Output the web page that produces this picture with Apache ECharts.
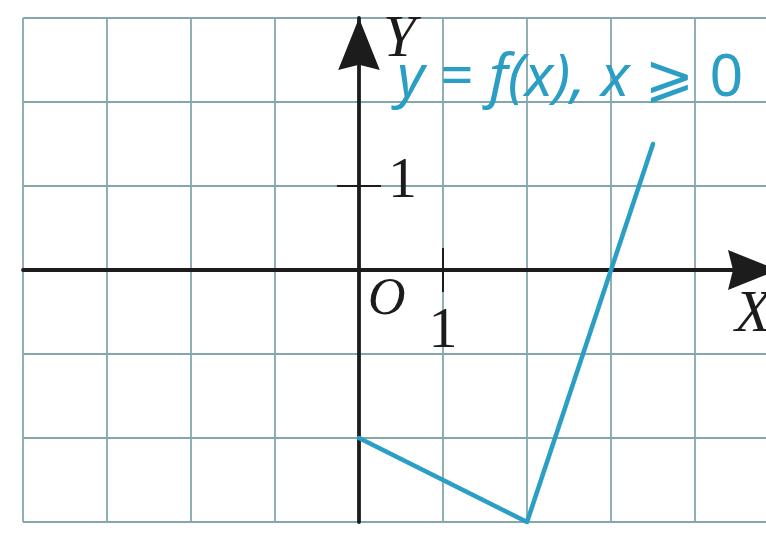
<!DOCTYPE html>
<html>
<head>
<meta charset="utf-8">
<script src="https://cdn.jsdelivr.net/npm/echarts@6/dist/echarts.min.js"></script>
<style>
  html, body { margin: 0; padding: 0; background: #ffffff; }
  #chart { width: 766px; height: 533px; }
</style>
</head>
<body>
<div id="chart"></div>
<script>
// Piecewise-linear function y = f(x), x >= 0 (vertices)
const xPoints = [0, 2, 3.5];
const yPoints = [-2, -3, 1.5];

// Visible coordinate window
const xRange = [-4, 5];
const yRange = [-3, 3];

// Unit marks on the axes
const xTickValues = [1];
const yTickValues = [1];

// Annotations
const formulaParts = ['y', ' = ', 'f', '(', 'x', '), ', 'x', ' ⩾ ', '0'];
const originLabel = 'O';
const xAxisName = 'X';
const yAxisName = 'Y';

const curveColor = '#2a9ec4';
const axisColor = '#1c1c1c';
const gridColor = '#84a7ad';
const serif = '"Liberation Serif", "DejaVu Serif", serif';

const chart = echarts.init(document.getElementById('chart'), null, { renderer: 'canvas' });

const arrowPath = 'path://M0,0 L40,100 L0,90 L-40,100 Z';

// role: 'main' = axis line + inner half of the unit tick,
//       'outer' = outer half of the unit tick,
//       'grid' = square grid only
function xAxisDef(role) {
  const isMain = role === 'main', isOuter = role === 'outer', isGrid = role === 'grid';
  return {
    type: 'value', min: xRange[0], max: xRange[1], interval: 1, position: 'bottom',
    axisLine: {
      show: isMain, onZero: !isGrid, onZeroAxisIndex: isOuter ? 1 : 0,
      symbol: ['none', arrowPath], symbolSize: [44, 50], symbolOffset: [0, -26],
      lineStyle: { color: axisColor, width: 3.8 }
    },
    axisTick: isGrid ? { show: false } : {
      show: true, customValues: xTickValues, inside: isMain, length: 22,
      lineStyle: { color: axisColor, width: 2 }
    },
    axisLabel: { show: false },
    splitLine: { show: isGrid, lineStyle: { color: gridColor, width: 1.8 } }
  };
}

function yAxisDef(role) {
  const isMain = role === 'main', isOuter = role === 'outer', isGrid = role === 'grid';
  return {
    type: 'value', min: yRange[0], max: yRange[1], interval: 1, position: 'left',
    axisLine: {
      show: isMain, onZero: !isGrid, onZeroAxisIndex: isOuter ? 1 : 0,
      symbol: ['none', arrowPath], symbolSize: [44, 52], symbolOffset: [0, -26],
      lineStyle: { color: axisColor, width: 3.8 }
    },
    axisTick: isGrid ? { show: false } : {
      show: true, customValues: yTickValues, inside: isMain, length: 22,
      lineStyle: { color: axisColor, width: 2 }
    },
    axisLabel: { show: false },
    splitLine: { show: isGrid, lineStyle: { color: gridColor, width: 1.8 } }
  };
}

const formulaRich = {
  it: { fontFamily: '"Noto Sans", sans-serif', fontStyle: 'italic', fontSize: 59, fill: curveColor },
  up: { fontFamily: '"Noto Sans", "DejaVu Sans", sans-serif', fontSize: 59, fill: curveColor }
};
const italicParts = new Set(['y', 'f', 'x', '(', '), ']);
const formulaText = formulaParts.map(p => (italicParts.has(p) ? '{it|' : '{up|') + p + '}').join('');

chart.setOption({
  animation: false,
  backgroundColor: '#ffffff',
  grid: { left: 23, right: -13, top: 18, bottom: 11, containLabel: false, outerBoundsMode: 'none' },
  xAxis: [xAxisDef('main'), xAxisDef('outer'), xAxisDef('grid')],
  yAxis: [yAxisDef('main'), yAxisDef('outer'), yAxisDef('grid')],
  series: [{
    type: 'line',
    data: xPoints.map((x, i) => [x, yPoints[i]]),
    symbol: 'none',
    clip: false,
    lineStyle: { color: curveColor, width: 4.5, cap: 'round', join: 'round' },
    z: 5
  }]
});

// Unit labels placed next to the unit ticks, using the axis scales
const tickLabelFont = '58px ' + serif;
const xLabelGraphics = xTickValues.map(v => {
  const p = chart.convertToPixel({ gridIndex: 0 }, [v, 0]);
  return { type: 'text', x: p[0], y: p[1] + 62,
    style: { text: String(v), font: tickLabelFont, fill: axisColor, align: 'center', verticalAlign: 'middle' } };
});
const yLabelGraphics = yTickValues.map(v => {
  const p = chart.convertToPixel({ gridIndex: 0 }, [0, v]);
  return { type: 'text', x: p[0] + 29, y: p[1] - 4,
    style: { text: String(v), font: tickLabelFont, fill: axisColor, align: 'left', verticalAlign: 'middle' } };
});

chart.setOption({
  graphic: [
    ...xLabelGraphics,
    ...yLabelGraphics,
    { type: 'text', x: 368, y: 300, style: { text: originLabel, font: 'italic 52px ' + serif, fill: axisColor, verticalAlign: 'middle' } },
    { type: 'text', x: 383, y: 40, style: { text: yAxisName, font: 'italic 59px ' + serif, fill: axisColor, verticalAlign: 'middle' } },
    { type: 'text', x: 735, y: 315, style: { text: xAxisName, font: 'italic 59px ' + serif, fill: axisColor, verticalAlign: 'middle' } },
    { type: 'text', x: 397, y: 79, style: { text: formulaText, rich: formulaRich, verticalAlign: 'middle' } }
  ]
});
</script>
</body>
</html>
